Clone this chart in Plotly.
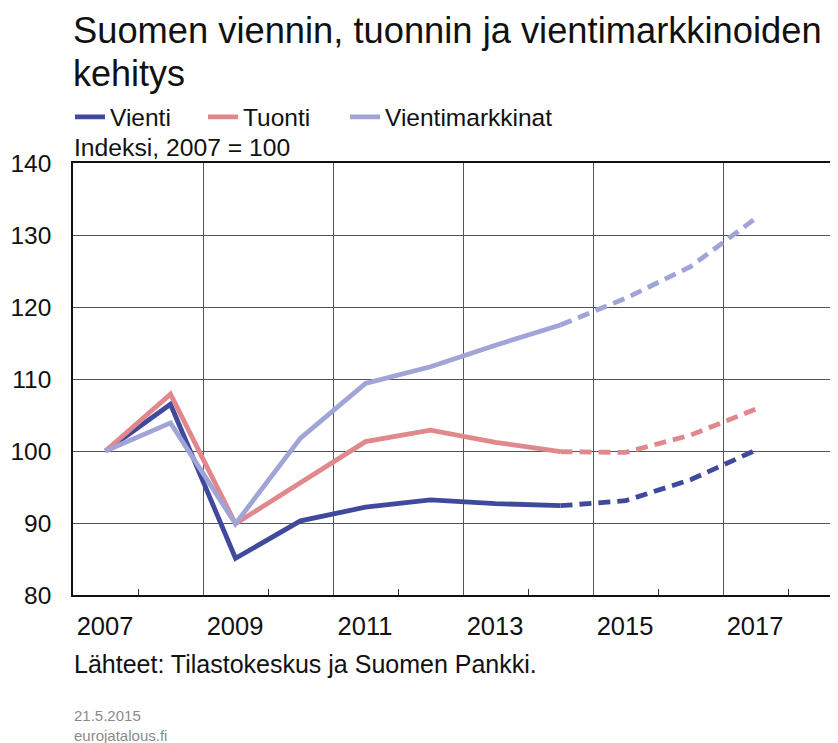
import plotly.graph_objects as go

# ---- data ----
years = [2007, 2008, 2009, 2010, 2011, 2012, 2013, 2014, 2015, 2016, 2017]
vienti = [100.0, 106.5, 85.1, 90.3, 92.2, 93.2, 92.7, 92.4, 93.1, 96.0, 100.1]
tuonti = [100.0, 107.9, 89.9, 95.6, 101.3, 102.9, 101.2, 99.9, 99.8, 102.2, 105.8]
vientimarkkinat = [100.0, 103.9, 89.9, 101.8, 109.4, 111.7, 114.7, 117.5, 121.2, 125.6, 132.3]
forecast_start = 2014

series_names = ["Vienti", "Tuonti", "Vientimarkkinat"]
series_values = [vienti, tuonti, vientimarkkinat]
series_colors = ["#3f4a9d", "#e0888c", "#a0a4d6"]
legend_ids = ["legend", "legend2", "legend3"]

x_tick_vals = [2006.5, 2008.5, 2010.5, 2012.5, 2014.5, 2016.5]
x_tick_text = ["2007", "2009", "2011", "2013", "2015", "2017"]
x_minor_vals = [2007.5, 2009.5, 2011.5, 2013.5, 2015.5, 2017.5]
y_tick_vals = [80, 90, 100, 110, 120, 130, 140]

FONT = "Liberation Sans, Arial, sans-serif"
# the page adds an 8px body margin, so the figure is 8px smaller each way
W, H = 830, 735
ML, MT, MB = 65, 155, 148
PLOT_W = W - ML
PLOT_H = H - MT - MB


def px_x(px):
    return (px - ML) / PLOT_W


def px_y(py):
    return 1 - (py - MT) / PLOT_H


legend_px = [62, 195, 337]

fig = go.Figure()
split = years.index(forecast_start)
for name, vals, col, lg in zip(series_names, series_values, series_colors, legend_ids):
    fig.add_trace(go.Scatter(
        x=years[:split + 1], y=vals[:split + 1], mode="lines", name=name,
        line=dict(color=col, width=4.8), showlegend=True, legend=lg,
    ))
    fig.add_trace(go.Scatter(
        x=years[split:], y=vals[split:], mode="lines", name=name + " (ennuste)",
        line=dict(color=col, width=4.8, dash="12px,7px"), showlegend=False, legend=lg,
    ))

legend_common = dict(
    orientation="h", xanchor="left", y=px_y(109), yanchor="middle",
    font=dict(size=24.5, family=FONT, color="#111111"), bgcolor="rgba(0,0,0,0)",
    borderwidth=0, itemwidth=30,
)

fig.update_layout(
    width=W, height=H,
    margin=dict(l=ML, r=0, t=MT, b=MB, autoexpand=False),
    paper_bgcolor="white", plot_bgcolor="white",
    font=dict(family=FONT, color="#111111", size=24),
    legend=dict(x=px_x(legend_px[0]), **legend_common),
    legend2=dict(x=px_x(legend_px[1]), **legend_common),
    legend3=dict(x=px_x(legend_px[2]), **legend_common),
    showlegend=True,
)

fig.update_xaxes(
    range=[2006.5, 2006.5 + PLOT_W / 65],
    tickvals=x_tick_vals, ticktext=x_tick_text,
    ticklabelshift=32, ticklabelstandoff=8, ticks="",
    showgrid=True, gridcolor="#555555", gridwidth=1,
    minor=dict(tickvals=x_minor_vals, ticks="inside", ticklen=6, tickcolor="#333333", showgrid=False),
    showline=True, linecolor="#111111", linewidth=1.5, mirror=True,
    tickfont=dict(size=25.5, family=FONT), zeroline=False, automargin=False,
)
fig.update_yaxes(
    range=[80, 140], tickvals=y_tick_vals,
    showgrid=True, gridcolor="#555555", gridwidth=1,
    showline=True, linecolor="#111111", linewidth=1.5, mirror=False,
    ticks="", ticklabelstandoff=15,
    tickfont=dict(size=24.5, family=FONT), zeroline=False, automargin=False,
)

title_lines = ["Suomen viennin, tuonnin ja vientimarkkinoiden", "kehitys"]
title_tops = [0, 43]
title_sizes = [36.3, 36]
for line, top, size in zip(title_lines, title_tops, title_sizes):
    fig.add_annotation(
        text=line, xref="paper", yref="paper", x=px_x(63), y=px_y(top),
        xanchor="left", yanchor="top", align="left", showarrow=False,
        font=dict(size=size, family=FONT, color="#111111"),
    )
fig.add_annotation(
    text="Indeksi, 2007 = 100", xref="paper", yref="paper",
    x=px_x(64), y=px_y(139), xanchor="left", yanchor="middle",
    showarrow=False, font=dict(size=24.7, family=FONT, color="#111111"),
)
fig.add_annotation(
    text="Lähteet: Tilastokeskus ja Suomen Pankki.", xref="paper", yref="paper",
    x=px_x(64), y=px_y(656), xanchor="left", yanchor="middle",
    showarrow=False, font=dict(size=25, family=FONT, color="#111111"),
)
fig.add_annotation(
    text="21.5.2015<br>eurojatalous.fi", xref="paper", yref="paper",
    x=px_x(64), y=px_y(697), xanchor="left", yanchor="top", align="left",
    showarrow=False, font=dict(size=15, family=FONT, color="#8a8a8a"),
)

fig.write_html("out.html")
